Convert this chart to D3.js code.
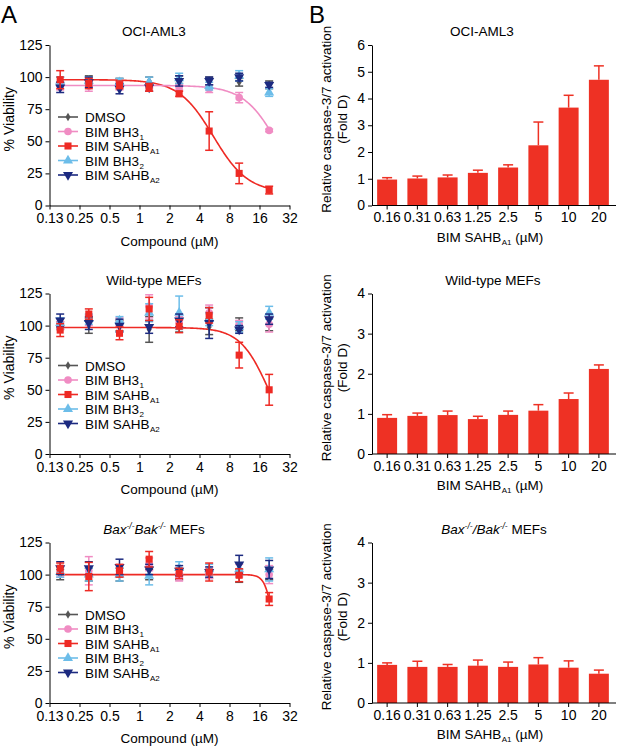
<!DOCTYPE html>
<html><head><meta charset="utf-8">
<script src="https://cdn.jsdelivr.net/npm/d3@7"></script>
<style>
body{margin:0;background:#fff;}
svg, svg text{font-family:"Liberation Sans",Arial,sans-serif;}
</style></head>
<body><svg id="c" width="617" height="750"></svg>
<script>
// ---------- DATA ----------
const concentrations = [0.16, 0.31, 0.63, 1.25, 2.5, 5, 10, 20];
const xTickValues = [0.125, 0.25, 0.5, 1, 2, 4, 8, 16, 32];
const xTickLabels = ["0.13", "0.25", "0.5", "1", "2", "4", "8", "16", "32"];
const viabilityTicks = [0, 25, 50, 75, 100, 125];
const barCategories = ["0.16", "0.31", "0.63", "1.25", "2.5", "5", "10", "20"];
const panelTitles = ["OCI-AML3", "Wild-type MEFs", "Bax MEFs"];

const seriesNames = ["DMSO", "BIM BH3", "BIM SAHB", "BIM BH3", "BIM SAHB"];
const seriesSubs = ["", "1", "A1", "2", "A2"];

// Panel A1 (OCI-AML3) viability values / errors, per series
const a1DMSO = [97, 98, 96, 97, 98, 97, 96, 94];
const a1DMSOErr = [3, 3, 3, 3, 3, 3, 3, 3];
const a1BH3_1 = [93, 93, 93, 93, 92, 91, 84, 58.5];
const a1BH3_1Err = [3, 4, 3, 2, 2, 3, 4, 1];
const a1SAHB_A1 = [98, 95, 94, 92, 87, 58, 25, 12];
const a1SAHB_A1Err = [7, 4, 3, 3, 2, 15, 8, 3];
const a1BH3_2 = [97, 97, 96, 96, 99, 93, 101, 88];
const a1BH3_2Err = [3, 3, 3, 4, 4, 3, 4, 3];
const a1SAHB_A2 = [92, 96, 91, 92, 97, 97, 100, 94];
const a1SAHB_A2Err = [4, 4, 4, 3, 4, 3, 3, 2];

// Panel A2 (Wild-type MEFs)
const a2DMSO = [100, 100, 100, 97, 100, 99, 101, 101];
const a2DMSOErr = [3, 6, 4, 10, 5, 6, 5, 5];
const a2BH3_1 = [100, 104, 103, 115, 103, 110, 101, 101];
const a2BH3_1Err = [3, 4, 3, 9, 4, 6, 3, 6];
const a2SAHB_A1 = [96.5, 109, 94, 113, 99.5, 108, 77, 50];
const a2SAHB_A1Err = [5, 4, 5, 9, 5, 6, 10, 12];
const a2BH3_2 = [102, 105, 104, 110, 110, 105, 99, 110];
const a2BH3_2Err = [4, 4, 3, 7, 13, 5, 4, 5];
const a2SAHB_A2 = [104, 102, 100, 99, 104, 102, 97, 105];
const a2SAHB_A2Err = [5, 5, 5, 5, 5, 12, 3, 4];

// Panel A3 (Bax-/-Bak-/- MEFs)
const a3DMSO = [100, 100, 100, 100, 100, 100, 99, 100];
const a3DMSOErr = [4, 5, 5, 4, 4, 3, 5, 4];
const a3BH3_1 = [102, 103, 103, 108, 98, 101, 103, 100];
const a3BH3_1Err = [4, 11, 4, 5, 3, 4, 5, 7];
const a3SAHB_A1 = [105, 98.5, 103, 112, 101, 102, 99.5, 81];
const a3SAHB_A1Err = [4, 11, 5, 6, 4, 7, 5, 5];
const a3BH3_2 = [102, 100, 100, 99, 105, 104, 104, 104];
const a3BH3_2Err = [4, 5, 5, 7, 5, 4, 5, 9];
const a3SAHB_A2 = [105, 105, 106, 104, 103, 102, 108, 104];
const a3SAHB_A2Err = [5, 5, 6, 4, 4, 4, 7, 7];

// Four-parameter logistic fits: [top, bottom, IC50, hill]
const a1FitSAHB_A1 = [98, 10, 5.5, 2.5];
const a1FitBH3_1 = [93.5, 0, 25, 2.5];
const a2FitSAHB_A1 = [98.5, 0, 20, 3];
const a3FitSAHB_A1 = [100, 0, 23, 10];

// Panel B caspase-3/7 activation (fold) and upper error
const b1Values = [0.97, 1.01, 1.05, 1.22, 1.42, 2.25, 3.66, 4.70];
const b1Err = [0.07, 0.09, 0.09, 0.10, 0.10, 0.87, 0.46, 0.52];
const b2Values = [0.90, 0.95, 0.97, 0.87, 0.975, 1.08, 1.37, 2.12];
const b2Err = [0.08, 0.07, 0.10, 0.07, 0.095, 0.15, 0.15, 0.10];
const b3Values = [0.95, 0.90, 0.90, 0.93, 0.90, 0.96, 0.88, 0.73];
const b3Err = [0.05, 0.14, 0.06, 0.14, 0.12, 0.17, 0.17, 0.09];
const b1Ticks = [0, 1, 2, 3, 4, 5, 6];
const b234Ticks = [0, 1, 2, 3, 4];

// ---------- STYLE ----------
const FONT = "Liberation Sans, Arial, sans-serif";
const colors = ["#555555", "#f08cc3", "#ee2a24", "#6cbde9", "#1c2a80"];
const symbols = [d3.symbolDiamond, d3.symbolCircle, d3.symbolSquare, d3.symbolTriangle, d3.symbolTriangle];
const symSizes = [22, 46, 50, 44, 44];
const symRot = [0, 0, 0, 0, 180];
const barColor = "#ee3124";
const drawOrder = [0, 1, 3, 4, 2];

const svg = d3.select("#c");

const aPanels = [
  {top: 45, series: [[a1DMSO,a1DMSOErr],[a1BH3_1,a1BH3_1Err],[a1SAHB_A1,a1SAHB_A1Err],[a1BH3_2,a1BH3_2Err],[a1SAHB_A2,a1SAHB_A2Err]],
   fits: [[2, a1FitSAHB_A1], [1, a1FitBH3_1]]},
  {top: 293.5, series: [[a2DMSO,a2DMSOErr],[a2BH3_1,a2BH3_1Err],[a2SAHB_A1,a2SAHB_A1Err],[a2BH3_2,a2BH3_2Err],[a2SAHB_A2,a2SAHB_A2Err]],
   fits: [[2, a2FitSAHB_A1]]},
  {top: 542.5, series: [[a3DMSO,a3DMSOErr],[a3BH3_1,a3BH3_1Err],[a3SAHB_A1,a3SAHB_A1Err],[a3BH3_2,a3BH3_2Err],[a3SAHB_A2,a3SAHB_A2Err]],
   fits: [[2, a3FitSAHB_A1]]}
];
const bPanels = [
  {top: 45, values: b1Values, err: b1Err, ticks: b1Ticks, max: 6, titleX: 482},
  {top: 293.5, values: b2Values, err: b2Err, ticks: b234Ticks, max: 4, titleX: 493},
  {top: 542.5, values: b3Values, err: b3Err, ticks: b234Ticks, max: 4, titleX: 494}
];
const H = 160.5;

function styleAxis(g) {
  g.attr("font-family", FONT);
  g.selectAll("path,line").attr("stroke", "#000").attr("stroke-width", 1);
  g.selectAll("text").attr("fill", "#000").attr("font-size", 14);
}

function titleText(parent, x, y, idx, slash) {
  const t = parent.append("text").attr("x", x).attr("y", y).attr("text-anchor", "middle")
    .attr("font-size", 13.5).attr("fill", "#000");
  if (idx < 2) { t.text(panelTitles[idx]); return; }
  t.append("tspan").attr("font-style", "italic").text("Bax");
  t.append("tspan").attr("font-style", "italic").attr("font-size", 8.5).attr("dy", -5).text("-/-");
  t.append("tspan").attr("font-style", "italic").attr("dy", 5).text(slash ? "/Bak" : "Bak");
  t.append("tspan").attr("font-style", "italic").attr("font-size", 8.5).attr("dy", -5).text("-/-");
  t.append("tspan").attr("dy", 5).text(" MEFs");
}

// panel letters
svg.append("text").attr("x", 1).attr("y", 23).attr("font-size", 24).text("A");
svg.append("text").attr("x", 309).attr("y", 23).attr("font-size", 24).text("B");

const x = d3.scaleLog().base(2).domain([0.125, 32]).range([49.5, 289.5]);

aPanels.forEach((p, pi) => {
  const y = d3.scaleLinear().domain([0, 125]).range([p.top + H, p.top]);
  const g = svg.append("g");
  g.append("g").attr("transform", `translate(49.5,0)`)
    .call(d3.axisLeft(y).tickValues(viabilityTicks).tickSize(4).tickPadding(3).tickSizeOuter(0))
    .call(styleAxis);
  g.append("g").attr("transform", `translate(0,${p.top + H})`)
    .call(d3.axisBottom(x).tickValues(xTickValues).tickFormat((d, i) => xTickLabels[i]).tickSize(4).tickPadding(4).tickSizeOuter(0))
    .call(styleAxis);
  titleText(g, 154, p.top - 9, pi, false);
  g.append("text").attr("transform", `translate(14,${p.top + H / 2 - 6}) rotate(-90)`)
    .attr("text-anchor", "middle").attr("font-size", 14).text("% Viability");
  g.append("text").attr("x", 169.5).attr("y", p.top + H + 40).attr("text-anchor", "middle")
    .attr("font-size", 13.5).text("Compound (\u00b5M)");

  // fit curves
  p.fits.forEach(([si, f]) => {
    const xs = d3.range(0, 201).map(i => Math.exp(Math.log(0.16) + (Math.log(20) - Math.log(0.16)) * i / 200));
    const line = d3.line().x(d => x(d)).y(d => y(f[1] + (f[0] - f[1]) / (1 + Math.pow(d / f[2], f[3]))));
    g.append("path").attr("d", line(xs)).attr("fill", "none").attr("stroke", colors[si]).attr("stroke-width", 1.6);
  });

  // points with error bars
  drawOrder.forEach(si => {
    const [vals, errs] = p.series[si];
    const sg = g.append("g");
    vals.forEach((v, i) => {
      const cx = x(concentrations[i]);
      const e = errs[i];
      sg.append("line").attr("x1", cx).attr("x2", cx).attr("y1", y(v - e)).attr("y2", y(v + e))
        .attr("stroke", colors[si]).attr("stroke-width", 1.5);
      [v - e, v + e].forEach(ev => sg.append("line").attr("x1", cx - 4).attr("x2", cx + 4)
        .attr("y1", y(ev)).attr("y2", y(ev)).attr("stroke", colors[si]).attr("stroke-width", 1.5));
      sg.append("path").attr("d", d3.symbol().type(symbols[si]).size(symSizes[si])())
        .attr("transform", `translate(${cx},${y(v)}) rotate(${symRot[si]})`).attr("fill", colors[si]);
    });
  });

  // legend
  const lg = g.append("g");
  seriesNames.forEach((name, si) => {
    const ly = p.top + 72 + si * 14.5;
    lg.append("line").attr("x1", 58).attr("x2", 78).attr("y1", ly).attr("y2", ly)
      .attr("stroke", colors[si]).attr("stroke-width", 1.6);
    lg.append("path").attr("d", d3.symbol().type(symbols[si]).size(symSizes[si])())
      .attr("transform", `translate(68,${ly}) rotate(${symRot[si]})`).attr("fill", colors[si]);
    const t = lg.append("text").attr("x", 85).attr("y", ly + 5).attr("font-size", 13.5).text(name);
    if (seriesSubs[si]) t.append("tspan").attr("font-size", 8).attr("dx", 0.5).attr("dy", 3).text(seriesSubs[si]);
  });
});

const xb = d3.scaleBand().domain(barCategories).range([372, 614]).paddingInner(0.34).paddingOuter(0.17);

bPanels.forEach((p, pi) => {
  const y = d3.scaleLinear().domain([0, p.max]).range([p.top + H, p.top]);
  const g = svg.append("g");
  // bars
  p.values.forEach((v, i) => {
    const bx = xb(barCategories[i]);
    const cx = bx + xb.bandwidth() / 2;
    g.append("line").attr("x1", cx).attr("x2", cx).attr("y1", y(v)).attr("y2", y(v + p.err[i]))
      .attr("stroke", barColor).attr("stroke-width", 1.5);
    g.append("line").attr("x1", cx - 5).attr("x2", cx + 5).attr("y1", y(v + p.err[i])).attr("y2", y(v + p.err[i]))
      .attr("stroke", barColor).attr("stroke-width", 1.5);
    g.append("rect").attr("x", bx).attr("width", xb.bandwidth()).attr("y", y(v)).attr("height", y(0) - y(v))
      .attr("fill", barColor);
  });
  g.append("g").attr("transform", `translate(372,0)`)
    .call(d3.axisLeft(y).tickValues(p.ticks).tickFormat(d3.format("d")).tickSize(4).tickPadding(3).tickSizeOuter(0))
    .call(styleAxis);
  const xa = g.append("g").attr("transform", `translate(0,${p.top + H})`)
    .call(d3.axisBottom(xb).tickSize(4).tickPadding(3).tickSizeOuter(0))
    .call(styleAxis);
  xa.select("path.domain").attr("d", `M372,0H616`);
  titleText(g, p.titleX, p.top - 9, pi, true);
  const ly = g.append("text").attr("transform", `translate(331,${p.top + H / 2 - 6}) rotate(-90)`)
    .attr("text-anchor", "middle").attr("font-size", 13.5);
  ly.append("tspan").attr("x", 0).attr("dy", 0).text("Relative caspase-3/7 activation");
  ly.append("tspan").attr("x", 0).attr("dy", 16).text("(Fold D)");
  const xl = g.append("text").attr("x", 490).attr("y", p.top + H + 36).attr("text-anchor", "middle").attr("font-size", 13.5);
  xl.append("tspan").text("BIM SAHB");
  xl.append("tspan").attr("font-size", 8).attr("dx", 0.5).attr("dy", 3).text("A1");
  xl.append("tspan").attr("dy", -3).text(" (\u00b5M)");
});
</script></body></html>
